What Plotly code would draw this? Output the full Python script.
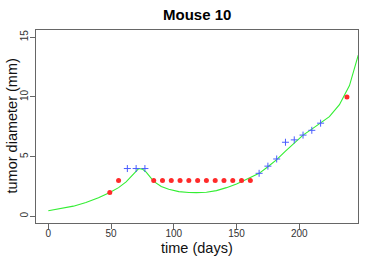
import plotly.graph_objects as go

# Observed data
red_days = [49, 56, 84, 91, 98, 105, 112, 119, 126, 133, 140, 147, 154, 161, 238]
red_diam = [2.0, 3.0, 3.0, 3.0, 3.0, 3.0, 3.0, 3.0, 3.0, 3.0, 3.0, 3.0, 3.0, 3.0, 10.0]

blue_days = [63, 70, 77, 168, 175, 182, 189, 196, 203, 210, 217]
blue_diam = [4.0, 4.0, 4.0, 3.6, 4.2, 4.8, 6.2, 6.4, 6.8, 7.2, 7.8]

# Fitted curve
fit_days = [0, 10, 20, 30, 40, 49, 56, 62, 67, 72, 75, 78, 84, 90, 96, 104, 112, 118,
            126, 134, 142, 150, 156, 162, 168, 175, 182, 189, 196, 203, 210, 217,
            224, 232, 240, 247]
fit_diam = [0.47, 0.63, 0.85, 1.15, 1.55, 2.0, 2.4, 2.88, 3.4, 4.0, 3.95, 3.7, 2.92, 2.5,
            2.27, 2.07, 2.0, 1.98, 2.02, 2.15, 2.4, 2.7, 3.0, 3.3, 3.6, 4.15, 4.75,
            5.45, 6.15, 6.8, 7.3, 7.8, 8.35, 9.35, 10.95, 13.5]

x_ticks = [0, 50, 100, 150, 200]
y_ticks = [0, 5, 10, 15]

title_text = "Mouse 10"
x_title = "time (days)"
y_title = "tumor diameter (mm)"

font = "Liberation Sans, Arial, sans-serif"

PLOT_W = 322.0
PLOT_H = 193.0

fig = go.Figure()
fig.add_trace(go.Scatter(x=fit_days, y=fit_diam, mode="lines",
                         line=dict(color="#33ee33", width=1.1), hoverinfo="skip"))
fig.add_trace(go.Scatter(x=red_days, y=red_diam, mode="markers",
                         marker=dict(symbol="circle", size=5, color="#ff2a2a",
                                     line=dict(width=0))))
fig.add_trace(go.Scatter(x=blue_days, y=blue_diam, mode="markers",
                         marker=dict(symbol="cross-thin", size=5,
                                     line=dict(width=1, color="#4a5cff"))))

fig.update_layout(
    width=374, height=262,
    margin=dict(l=36, r=16, t=30, b=39, autoexpand=False),
    paper_bgcolor="white", plot_bgcolor="white",
    showlegend=False,
    font=dict(family=font, color="#222"),
    xaxis=dict(range=[-9.8, 246.8], tickvals=x_ticks, ticktext=[str(v) for v in x_ticks],
               showgrid=False, zeroline=False, showline=True, linecolor="#666",
               linewidth=1, mirror=True, ticks="outside", ticklen=5, tickcolor="#666",
               tickfont=dict(size=10, color="#333"), automargin=False,
               ticklabelstandoff=-4),
    yaxis=dict(range=[-0.56, 15.6], tickvals=y_ticks, ticktext=[str(v) for v in y_ticks],
               showgrid=False, zeroline=False, showline=True, linecolor="#666",
               linewidth=1, mirror=True, ticks="outside", ticklen=5, tickcolor="#666",
               tickangle=-90, tickfont=dict(size=10, color="#333"), automargin=False,
               ticklabelstandoff=-2),
    annotations=[
        dict(text="<b>" + title_text + "</b>", xref="paper", yref="paper",
             x=0.5, y=1 + (30 - 15) / PLOT_H, xanchor="center", yanchor="middle",
             showarrow=False, font=dict(size=15, color="black")),
        dict(text=x_title, xref="paper", yref="paper",
             x=0.5, y=-(248 - 223) / PLOT_H, xanchor="center", yanchor="middle",
             showarrow=False, font=dict(size=14.5, color="#111")),
        dict(text=y_title, xref="paper", yref="paper",
             x=-(36 - 11) / PLOT_W, y=0.5, xanchor="center", yanchor="middle",
             textangle=-90, showarrow=False, font=dict(size=14.5, color="#111")),
    ],
)

# remove the page's default body margin so the figure fills the window exactly
fig.write_html("out.html", config={"displayModeBar": False},
               post_script="document.body.style.margin='0';")
